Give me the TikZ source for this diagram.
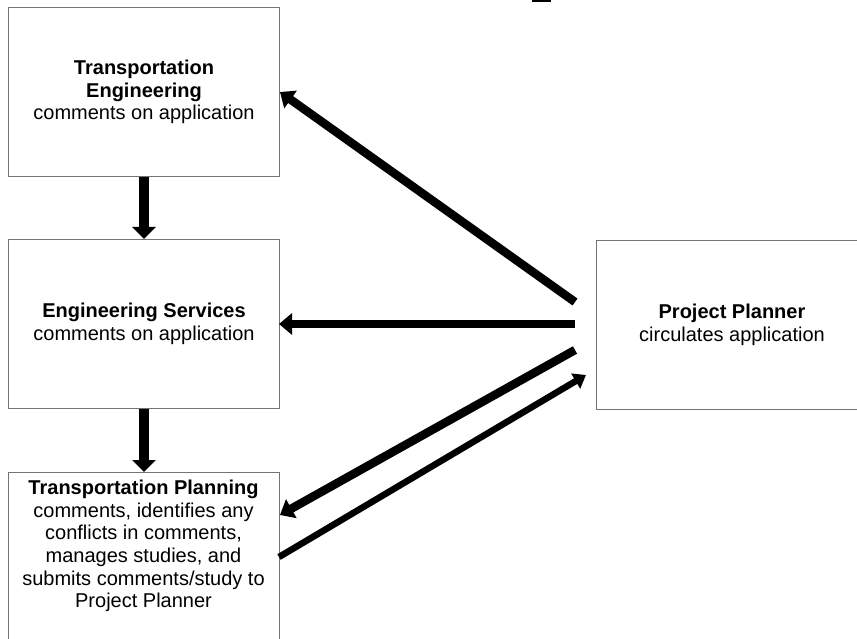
\documentclass[tikz,border=0pt]{standalone}
\usepackage{fontspec}
\setmainfont{Liberation Sans}
\usetikzlibrary{arrows.meta,calc}
\definecolor{boxline}{rgb}{0.45,0.45,0.45}
\begin{document}
\begin{tikzpicture}[x=1pt,y=-1pt,
  box/.style={draw=boxline,line width=1pt,anchor=north west,minimum width=271pt,minimum height=169pt,inner sep=0pt,align=center,
    font=\fontsize{20}{22.7}\selectfont},
  txt/.style={align=center,inner sep=0pt,font=\fontsize{20}{22.7}\selectfont},
  fatarrow/.style={line width=10pt,-{Triangle[width=23pt,length=12pt]}},
  midarrow/.style={line width=8.5pt,-{Triangle[width=21pt,length=13pt]}},
  thinarrow/.style={line width=6.5pt,-{Triangle[width=17pt,length=12pt]}}
]
\useasboundingbox (0,0) rectangle (857,639);
\fill (532,0) rectangle (551,2);
\node[box] (te) at (8,7) {\textbf{Transportation}\\\textbf{Engineering}\\comments on application};
\node[box] (es) at (8,239) {\textbf{Engineering Services}\\comments on application};
\node[box,minimum height=172pt] (tp) at (8,472) {};
\node[txt] (tpt) at (143.5,546) {\textbf{Transportation Planning}\\comments, identifies any\\conflicts in comments,\\manages studies, and\\submits comments/study to\\Project Planner};
\node[box] (pp) at (596,240) {\textbf{Project Planner}\\circulates application};
\coordinate (s1) at (575,302);
\coordinate (e1) at (280,92);
\coordinate (s2) at (575,324);
\coordinate (e2) at (279,324);
\coordinate (s3) at (575,350);
\coordinate (e3) at (280,515);
\coordinate (s4) at (279,557);
\coordinate (e4) at (586,375);
\draw[fatarrow] (te.south) -- (es.north);
\draw[fatarrow] (es.south) -- (tp.north);
\draw[midarrow] (s1) -- (e1);
\draw[midarrow] (s2) -- (e2);
\draw[midarrow] (s3) -- (e3);
\draw[thinarrow] (s4) -- (e4);
\end{tikzpicture}
\end{document}
